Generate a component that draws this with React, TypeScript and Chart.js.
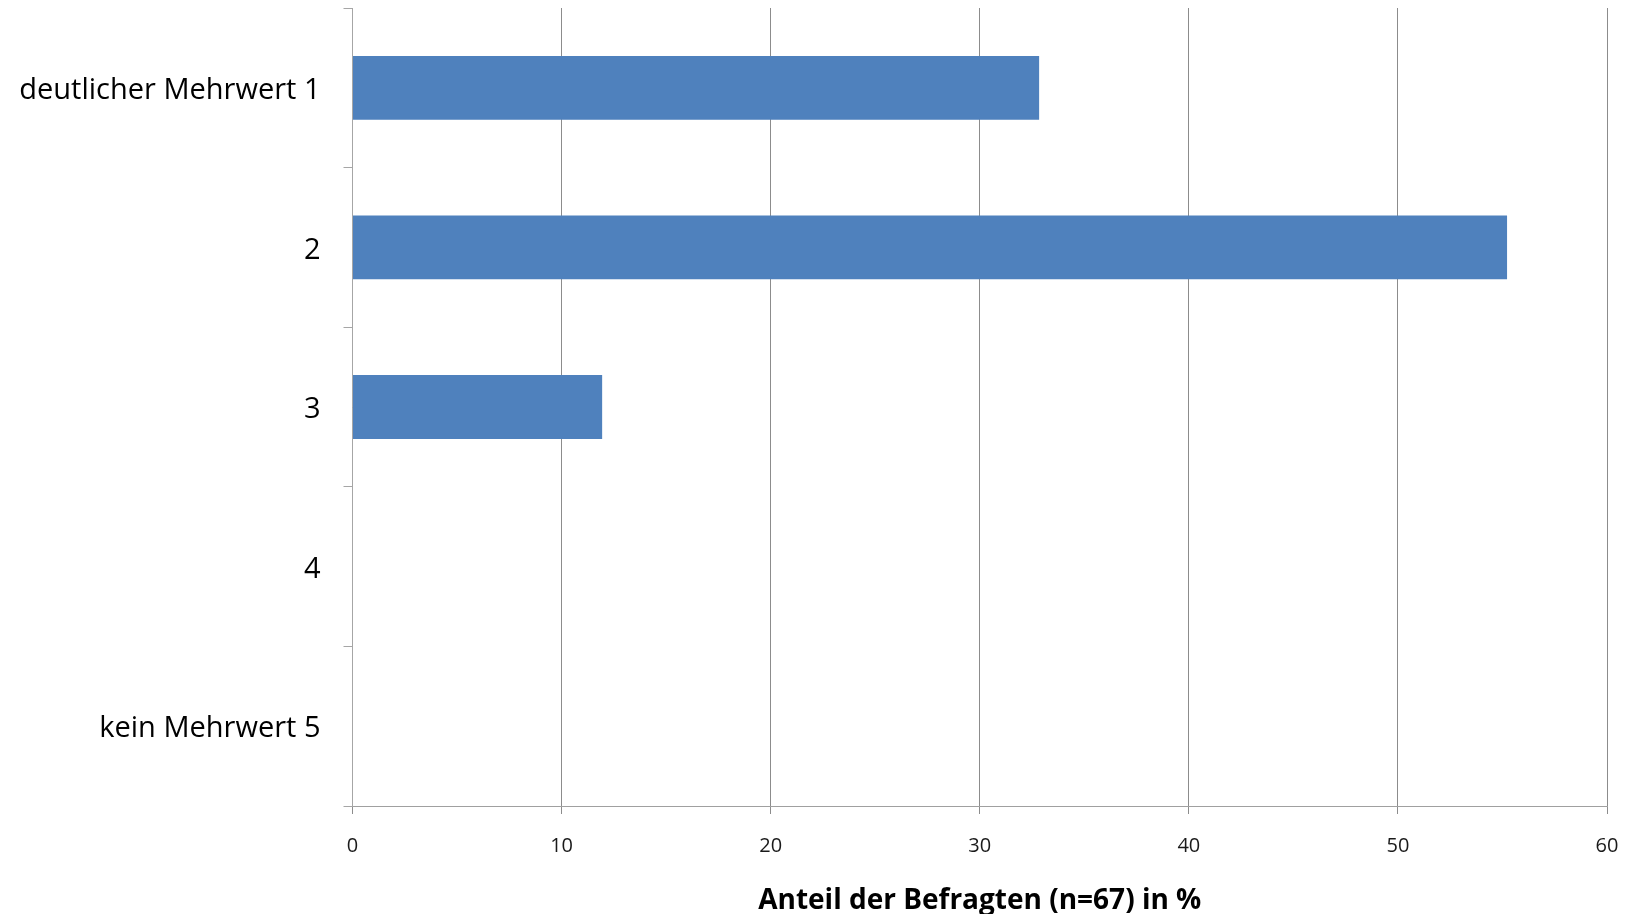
import React, { useEffect, useRef } from "react";
import { Chart, registerables } from "chart.js";

Chart.register(...registerables);

const categories: string[] = [
  "deutlicher Mehrwert 1",
  "2",
  "3",
  "4",
  "kein Mehrwert 5",
];
const shareValues: number[] = [32.84, 55.22, 11.94, 0, 0];
const xTicks: number[] = [0, 10, 20, 30, 40, 50, 60];
const xTitle = "Anteil der Befragten (n=67) in %";

const FONT = "'Open Sans', sans-serif";

export default function App() {
  const ref = useRef<HTMLCanvasElement | null>(null);

  useEffect(() => {
    if (!ref.current) return;
    const chart = new Chart(ref.current, {
      type: "bar",
      data: {
        labels: categories,
        datasets: [
          {
            data: shareValues,
            backgroundColor: "#4F81BD",
            borderWidth: 0,
            barPercentage: 0.4,
            categoryPercentage: 1,
          },
        ],
      },
      options: {
        indexAxis: "y",
        animation: false,
        responsive: false,
        maintainAspectRatio: false,
        layout: { padding: { top: 8, right: 28, bottom: 0, left: 0 } },
        plugins: {
          legend: { display: false },
          tooltip: { enabled: false },
          title: { display: false },
        },
        scales: {
          x: {
            type: "linear",
            min: 0,
            max: 60,
            afterBuildTicks: (scale: any) => {
              scale.ticks = xTicks.map((v) => ({ value: v }));
            },
            afterFit: (scale: any) => {
              scale.height = 108;
              scale.paddingLeft = 0;
              scale.paddingRight = 0;
            },
            grid: {
              color: "#8C8C8C",
              lineWidth: 1,
              drawTicks: true,
              tickLength: 8,
            },
            border: { display: true, color: "#A0A0A0", width: 1 },
            ticks: {
              color: "#1A1A1A",
              font: { family: FONT, size: 20 },
              padding: 20,
              maxRotation: 0,
            },
            title: {
              display: true,
              text: xTitle,
              color: "#000",
              font: { family: FONT, size: 28, weight: "bold", lineHeight: 0.93 },
              padding: { top: 0, bottom: 0 },
            },
          },
          y: {
            type: "category",
            offset: true,
            afterFit: (scale: any) => {
              scale.width = 352.5;
              scale.paddingTop = 0;
              scale.paddingBottom = 0;
            },
            grid: {
              offset: true,
              drawOnChartArea: false,
              drawTicks: true,
              tickLength: 9,
              color: "#A6A6A6",
            },
            border: { display: true, color: "#A6A6A6", width: 1 },
            ticks: {
              color: "#000",
              font: { family: FONT, size: 29 },
              padding: 23,
              labelOffset: 3,
            },
          },
        },
      },
    });
    return () => chart.destroy();
  }, []);

  return (
    <div style={{ position: "absolute", left: 0, top: 0, width: 1635, height: 914, background: "#fff" }}>
      <canvas ref={ref} width={1635} height={914} style={{ width: 1635, height: 914 }} />
    </div>
  );
}
